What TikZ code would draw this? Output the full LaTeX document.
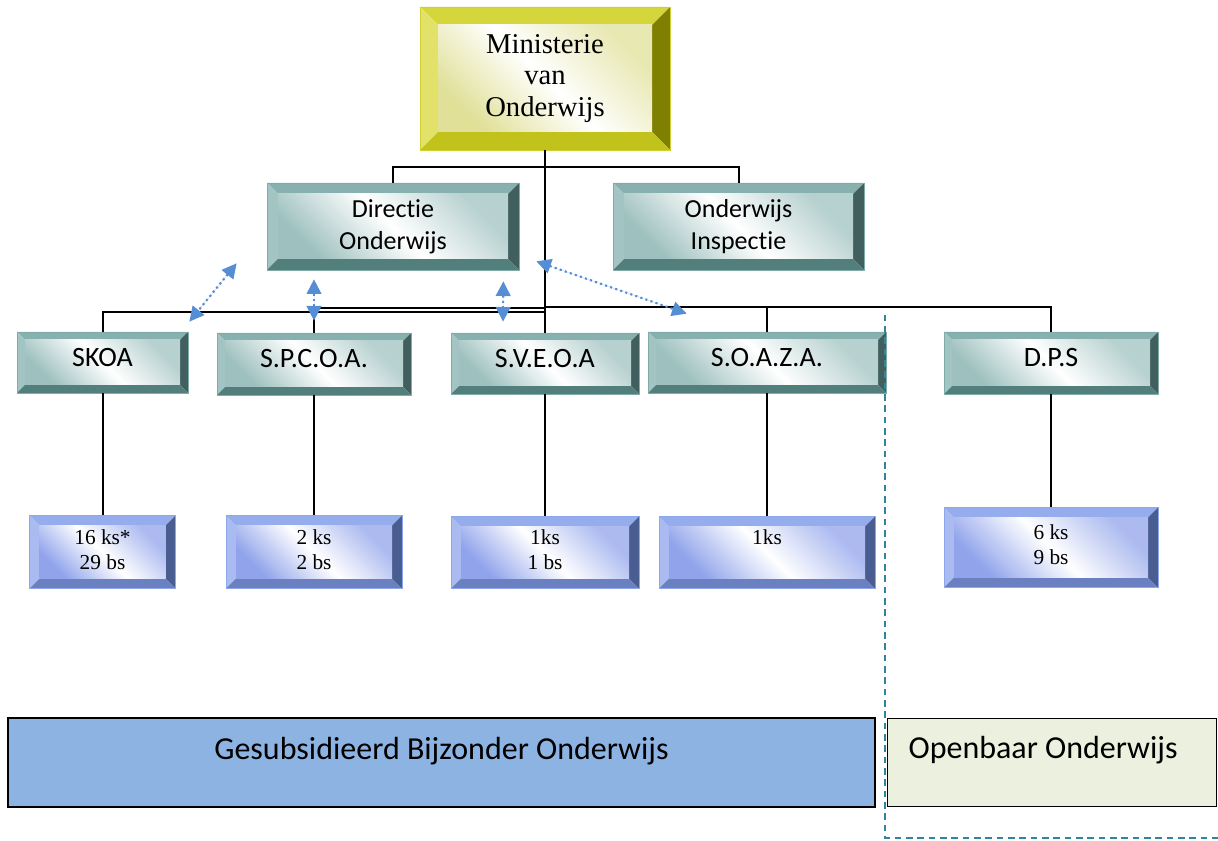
\documentclass[tikz,border=0pt]{standalone}
\usepackage{fontspec}
\setmainfont{Carlito}[Ligatures=NoCommon]
\newfontfamily\serifface{Liberation Serif}
\usetikzlibrary{arrows.meta,calc,positioning}

\definecolor{ylwtop}{HTML}{D5D53C}
\definecolor{ylwleft}{HTML}{E2E26A}
\definecolor{ylwright}{HTML}{808000}
\definecolor{ylwbottom}{HTML}{C2C21C}
\definecolor{ylwface}{HTML}{E0E098}
\definecolor{ylwedge}{HTML}{CFCF30}
\definecolor{tealtop}{HTML}{86B1AE}
\definecolor{tealleft}{HTML}{A2C5C3}
\definecolor{tealright}{HTML}{405F5E}
\definecolor{tealbottom}{HTML}{527E7B}
\definecolor{tealface}{HTML}{9EC1BF}
\definecolor{tealedge}{HTML}{7FACA9}
\definecolor{bluetop}{HTML}{95ADEC}
\definecolor{blueleft}{HTML}{A9BBF1}
\definecolor{blueright}{HTML}{4A5D90}
\definecolor{bluebottom}{HTML}{6A80C0}
\definecolor{blueface}{HTML}{90A3EB}
\definecolor{blueedge}{HTML}{8EA6EA}
\definecolor{gbofill}{HTML}{8DB3E2}
\definecolor{oofill}{HTML}{EBF1DE}
\definecolor{assocblue}{HTML}{558ED5}
\definecolor{divblue}{HTML}{31849B}

% four bevel faces and a shaded front, drawn inside the node path
\newcommand\bevelfaces[5]{%
  \path (path picture bounding box.north west) coordinate (oNW)
        (path picture bounding box.north east) coordinate (oNE)
        (path picture bounding box.south west) coordinate (oSW)
        (path picture bounding box.south east) coordinate (oSE);
  \path ([xshift=\bevelsz,yshift=-\bevelsz]oNW) coordinate (iNW)
        ([xshift=-\bevelsz,yshift=-\bevelsz]oNE) coordinate (iNE)
        ([xshift=\bevelsz,yshift=\bevelsz]oSW) coordinate (iSW)
        ([xshift=-\bevelsz,yshift=\bevelsz]oSE) coordinate (iSE);
  \fill[#1] (oNW) -- (oNE) -- (iNE) -- (iNW) -- cycle;
  \fill[#2] (oNW) -- (iNW) -- (iSW) -- (oSW) -- cycle;
  \fill[#3] (oNE) -- (oSE) -- (iSE) -- (iNE) -- cycle;
  \fill[#4] (oSW) -- (iSW) -- (iSE) -- (oSE) -- cycle;
  \shade[top color=#5!75!white, bottom color=#5, middle color=white, shading angle=-45] (iSW) rectangle (iNE);
}
\tikzset{bevel size/.store in=\bevelsz, bevel size=8pt}

\begin{document}
\begin{tikzpicture}[x=0.75pt,y=-0.75pt,
  link/.style={draw=black,line width=1.5pt},
  assoc/.style={{Triangle[length=11pt,width=11pt]}-{Triangle[length=11pt,width=11pt]},draw=assocblue,fill=assocblue,line width=1.6pt,dash pattern=on 1.6pt off 2.4pt},
  divider/.style={draw=divblue,line width=1.5pt,dash pattern=on 5pt off 3.5pt},
  ylwbox/.style={draw=ylwedge,line width=0.5pt,inner sep=0pt,align=center,bevel size=13.5pt,
    font=\serifface\fontsize{21.5}{23.6}\selectfont,
    path picture={\bevelfaces{ylwtop}{ylwleft}{ylwright}{ylwbottom}{ylwface}}},
  tealbox/.style={draw=tealedge,line width=0.5pt,inner sep=0pt,align=center,bevel size=6pt,
    font=\fontsize{21}{24}\selectfont,
    path picture={\bevelfaces{tealtop}{tealleft}{tealright}{tealbottom}{tealface}}},
  oneline/.style={text depth=8pt},
  bluebox/.style={draw=blueedge,line width=0.5pt,inner sep=0pt,align=center,bevel size=7.5pt,
    text depth=4pt,font=\serifface\fontsize{16}{18.75}\selectfont,
    path picture={\bevelfaces{bluetop}{blueleft}{blueright}{bluebottom}{blueface}}},
  sector/.style={draw=black,line width=1.2pt,inner sep=0pt,font=\fontsize{24}{28}\selectfont,
    text height=16.5pt}]
\useasboundingbox (0,0) rectangle (1218,841);

% top of the chart
\node[ylwbox,minimum width=187.5pt,minimum height=107.25pt] (mini) at (545,78.5) {Ministerie\\van\\Onderwijs};
\node[tealbox,bevel size=8.25pt,font=\fontsize{19.5}{24}\selectfont,minimum width=189pt,minimum height=65.25pt] (dir) at (393,226.5) {Directie\\Onderwijs};
\node[tealbox,bevel size=8.25pt,font=\fontsize{19.5}{24}\selectfont,minimum width=188.25pt,minimum height=65.25pt] (insp) at (738.5,226.5) {Onderwijs\\Inspectie};

% school boards
\node[tealbox,oneline,minimum width=128.25pt,minimum height=45.75pt] (skoa) at (102.5,362.5) {SKOA};
\node[tealbox,oneline,minimum width=145.5pt,minimum height=46.5pt] (spcoa) at (314,364) {S.P.C.O.A.};
\node[tealbox,oneline,minimum width=141pt,minimum height=45.75pt] (sveoa) at (545,363.5) {S.V.E.O.A};
\node[tealbox,oneline,minimum width=178.5pt,minimum height=45.75pt] (soaza) at (767,362.5) {S.O.A.Z.A.};
\node[tealbox,oneline,minimum width=160.5pt,minimum height=46.5pt] (dps) at (1051,363) {D.P.S};

% number of schools
\node[bluebox,minimum width=109.5pt,minimum height=54.75pt,below=91.5pt of skoa] (skoan) {16 ks*\\29 bs};
\node[bluebox,minimum width=132pt,minimum height=54.75pt,below=90pt of spcoa] (spcoan) {2 ks\\2 bs};
\node[bluebox,minimum width=141pt,minimum height=54pt,below=91.5pt of sveoa] (sveoan) {1ks\\1 bs};
\node[bluebox,minimum width=162pt,minimum height=54pt,below=92.25pt of soaza] (soazan) {1ks\\\phantom{1 bs}};
\node[bluebox,minimum width=160.5pt,minimum height=60pt,below=84.75pt of dps] (dpsn) {6 ks\\9 bs};

% sectors
\node[sector,fill=gbofill,minimum width=650.25pt,minimum height=66.75pt,text depth=20.3pt] (gbo) at (441.5,762.5) {Gesubsidieerd Bijzonder Onderwijs};
\node[sector,fill=oofill,minimum width=246.75pt,minimum height=66pt,text depth=22.5pt,
  inner xsep=15.75pt,text width=215.25pt,align=flush left,right=8.25pt of gbo] (oo) {Openbaar Onderwijs};

% hierarchy
\draw[link] (mini.south) -- ++(0,17) -| (dir.north);
\draw[link] (mini.south) -- ++(0,17) -| (insp.north);
\draw[link] (mini.south) -- ++(0,162) -| (skoa.north);
\draw[link] (mini.south) -- ++(0,158) -| (spcoa.north);
\draw[link] (mini.south) -- (sveoa.north);
\draw[link] (mini.south) -- ++(0,157) -| (soaza.north);
\draw[link] (mini.south) -- ++(0,157) -| (dps.north);
\foreach \b in {skoa,spcoa,sveoa,soaza,dps}
  \draw[link] (\b.south) -- (\b.south |- \b n.north);

% contacts of the Directie
\draw[assoc] ($(dir.south west)+(-30,-7)$) -- ($(skoa.north east)+(1,-10)$);
\draw[assoc] ($(dir.south -| spcoa.north)+(0,9)$) -- ($(spcoa.north)+(0,-12)$);
\draw[assoc] ($(dir.south east)+(-16,11)$) -- ($(sveoa.north)+(-42,-11)$);
\draw[assoc] ($(dir.south east)+(17,-9)$) -- ($(soaza.north west)+(39,-18)$);

% public / private border
\coordinate (divtop) at ($(soaza.north east)+(-1,-17)$);
\coordinate (divend) at (1218,838);
\draw[divider] (divtop) |- (divend);
\end{tikzpicture}
\end{document}
